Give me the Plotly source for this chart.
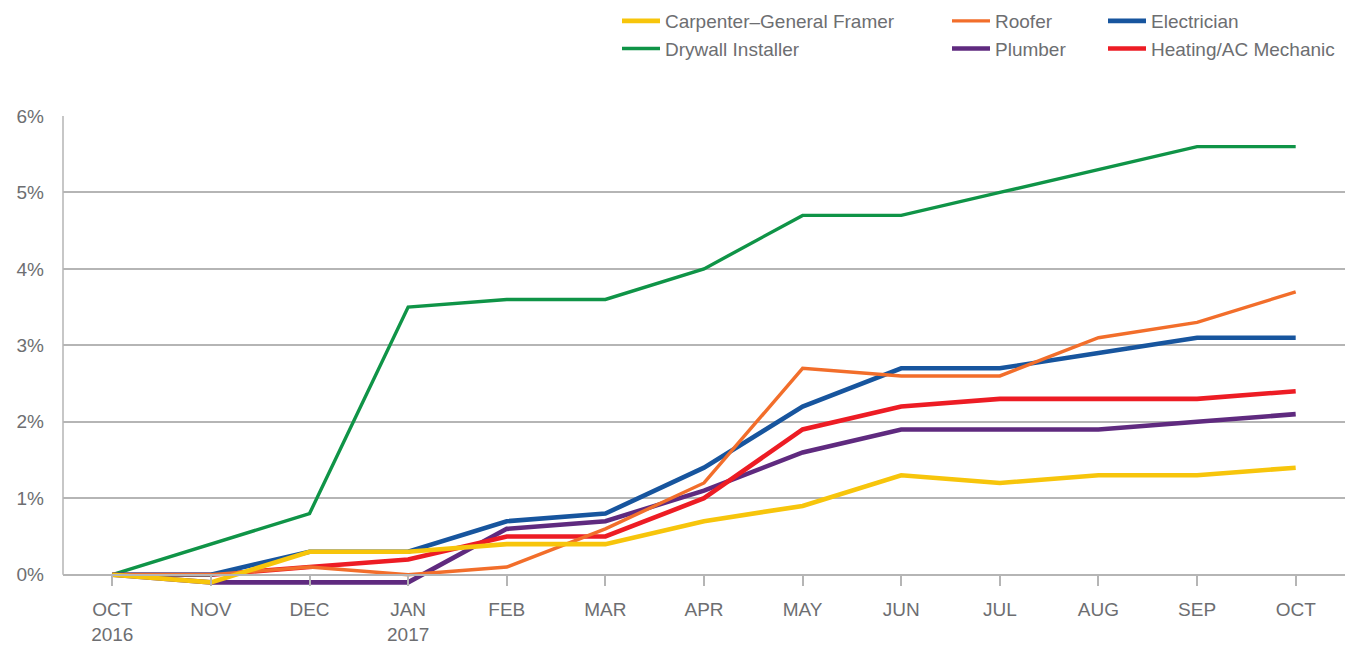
import plotly.graph_objects as go

months = ["OCT<br>2016", "NOV", "DEC", "JAN<br>2017", "FEB", "MAR", "APR",
          "MAY", "JUN", "JUL", "AUG", "SEP", "OCT"]
carpenter = [0, -0.1, 0.3, 0.3, 0.4, 0.4, 0.7, 0.9, 1.3, 1.2, 1.3, 1.3, 1.4]
roofer = [0, 0, 0.1, 0, 0.1, 0.6, 1.2, 2.7, 2.6, 2.6, 3.1, 3.3, 3.7]
electrician = [0, 0, 0.3, 0.3, 0.7, 0.8, 1.4, 2.2, 2.7, 2.7, 2.9, 3.1, 3.1]
drywall = [0, 0.4, 0.8, 3.5, 3.6, 3.6, 4.0, 4.7, 4.7, 5.0, 5.3, 5.6, 5.6]
plumber = [0, -0.1, -0.1, -0.1, 0.6, 0.7, 1.1, 1.6, 1.9, 1.9, 1.9, 2.0, 2.1]
heating = [0, 0, 0.1, 0.2, 0.5, 0.5, 1.0, 1.9, 2.2, 2.3, 2.3, 2.3, 2.4]

y_ticks = [0, 1, 2, 3, 4, 5, 6]
y_labels = ["0%", "1%", "2%", "3%", "4%", "5%", "6%"]

FONT = "Liberation Sans, Arial, Helvetica, sans-serif"
GRAY = "#6d6e71"
GRID = "#b5b5b5"

# page body adds an 8px offset, so the figure is 8px smaller than the window
W, H = 1346, 637
ML, MR, MT, MB = 55, 9, 108, 55
PW, PH = W - ML - MR, H - MT - MB

# (name, values, color, width, legend, rank) in drawing order
series = [
    ("Drywall Installer", drywall, "#0f9447", 3.4, "legend", 2),
    ("Plumber", plumber, "#5f2a7f", 4.6, "legend2", 2),
    ("Heating/AC Mechanic", heating, "#ed1c24", 4.6, "legend3", 2),
    ("Electrician", electrician, "#17559e", 4.6, "legend3", 1),
    ("Roofer", roofer, "#f26e2b", 3.4, "legend2", 1),
    ("Carpenter\u2013General Framer", carpenter, "#f7c50b", 4.6, "legend", 1),
]

fig = go.Figure()
for name, vals, color, w, leg, rank in series:
    fig.add_trace(go.Scatter(
        x=months, y=vals, mode="lines", name=name,
        line=dict(color=color, width=w),
        legend=leg, legendrank=rank, hoverinfo="skip",
    ))

ymin, ymax = -0.2, 6
legend_top = (H - MB + 6) / PH
legend_common = dict(
    orientation="v", xref="paper", yref="paper",
    xanchor="left", yanchor="top", y=legend_top,
    font=dict(family=FONT, size=19, color=GRAY),
    bgcolor="rgba(0,0,0,0)", borderwidth=0, itemwidth=38,
    traceorder="normal",
)

fig.update_layout(
    width=W, height=H,
    margin=dict(l=ML, r=MR, t=MT, b=MB, autoexpand=False),
    paper_bgcolor="white", plot_bgcolor="white",
    font=dict(family=FONT, size=19, color=GRAY),
    showlegend=True,
    legend=dict(x=(609 - ML) / PW, **legend_common),
    legend2=dict(x=(939 - ML) / PW, **legend_common),
    legend3=dict(x=(1095 - ML) / PW, **legend_common),
    xaxis=dict(
        type="category", range=[-0.5, 12.5],
        anchor="free", position=(0 - ymin) / (ymax - ymin),
        showline=True, linecolor=GRID, linewidth=1.5,
        ticks="outside", ticklen=11, tickwidth=1.5, tickcolor=GRID,
        showgrid=False, zeroline=False, automargin=False,
        tickfont=dict(family=FONT, size=19, color=GRAY),
        ticklabelstandoff=7,
    ),
    yaxis=dict(
        range=[ymin, ymax], tickvals=y_ticks, ticktext=y_labels,
        showgrid=True, gridcolor=GRID, gridwidth=1.5,
        zeroline=False, showline=False, ticks="", automargin=False,
        tickfont=dict(family=FONT, size=19, color=GRAY),
        ticklabelstandoff=18,
    ),
    shapes=[dict(type="line", xref="paper", yref="y", x0=0, x1=0,
                 y0=0, y1=6, line=dict(color=GRID, width=1.5), layer="below")],
)

fig.write_html("out.html")
